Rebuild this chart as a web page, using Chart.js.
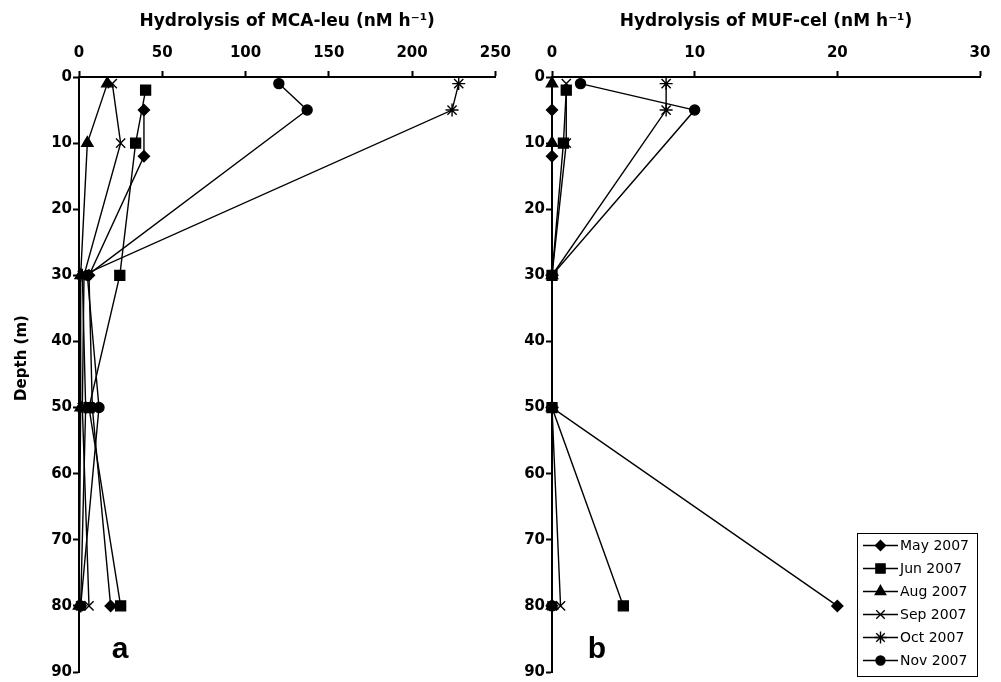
<!DOCTYPE html>
<html>
<head>
<meta charset="utf-8">
<script src="https://cdn.jsdelivr.net/npm/chart.js@4.4.1/dist/chart.umd.min.js"></script>
<style>
  html, body { margin: 0; padding: 0; background: #fff; }
  #wrap { position: relative; width: 1001px; height: 682px; }
  canvas { position: absolute; top: 0; }
  #chartA { left: 0; }
  #chartB { left: 520px; }
</style>
</head>
<body>
<div id="wrap">
  <canvas id="chartA" width="520" height="682"></canvas>
  <canvas id="chartB" width="481" height="682"></canvas>
</div>
<script>
// sampling months and the depths (m) measured in each
const months = ['May 2007', 'Jun 2007', 'Aug 2007', 'Sep 2007', 'Oct 2007', 'Nov 2007'];
const depthByMonth = [
  [5, 12, 30, 50, 80],
  [2, 10, 30, 50, 80],
  [1, 10, 30, 50, 80],
  [1, 10, 30, 50, 80],
  [1, 5, 30, 50, 80],
  [1, 5, 30, 50, 80]
];
// hydrolysis rates (nM h-1), same order as depthByMonth
const mcaLeu = [
  [39, 39, 6, 8, 19],
  [40, 34, 24.5, 6, 25],
  [17, 5, 1, 1, 0],
  [20, 25, 3, 2, 6],
  [228, 224, 2, 4, 1],
  [120, 137, 5, 12, 1]
];
const mufCel = [
  [0, 0, 0, 0, 20],
  [1, 0.8, 0, 0, 5],
  [0, 0, 0, 0, 0],
  [1, 1, 0, 0, 0.6],
  [8, 8, 0, 0, 0],
  [2, 10, 0, 0, 0]
];
const markerStyles = ['rectRot', 'rect', 'triangle', 'crossRot', 'star', 'circle'];
const markerSizes = [5.5, 7, 6.5, 6.5, 6.5, 5];

Chart.defaults.font.family = "'DejaVu Sans', sans-serif";
Chart.defaults.color = '#000';

function buildDatasets(values) {
  return months.map(function (m, i) {
    return {
      label: m,
      data: depthByMonth[i].map(function (d, j) { return { x: values[i][j], y: d }; }),
      showLine: true,
      borderColor: '#000',
      borderWidth: 1.4,
      backgroundColor: '#000',
      pointStyle: markerStyles[i],
      pointRadius: markerSizes[i],
      pointHoverRadius: markerSizes[i],
      pointBorderWidth: 1.4,
      pointBackgroundColor: '#000',
      pointBorderColor: '#000',
      clip: false
    };
  });
}

// panel letter, depth title and boxed legend drawn on top of the chart
const extras = {
  id: 'extras',
  afterDraw: function (chart, args, opts) {
    const ctx = chart.ctx;
    ctx.save();
    ctx.fillStyle = '#000';
    ctx.font = "bold 30px 'Liberation Sans', Arial, sans-serif";
    ctx.textAlign = 'center';
    ctx.textBaseline = 'middle';
    ctx.fillText(opts.letter, opts.letterX, 650);

    if (opts.yTitle) {
      ctx.save();
      ctx.translate(22, 358);
      ctx.rotate(-Math.PI / 2);
      ctx.font = "bold 15px 'DejaVu Sans', sans-serif";
      ctx.fillText(opts.yTitle, 0, 0);
      ctx.restore();
    }

    if (opts.legend) {
      const bx = 337, by = 533, bw = 120, bh = 143;
      ctx.lineWidth = 1;
      ctx.strokeStyle = '#000';
      ctx.strokeRect(bx + 0.5, by + 0.5, bw, bh);
      ctx.font = "14px 'DejaVu Sans', sans-serif";
      ctx.textAlign = 'left';
      chart.data.datasets.forEach(function (ds, i) {
        const cy = by + 12.5 + i * 23;
        ctx.beginPath();
        ctx.lineWidth = 1.4;
        ctx.moveTo(bx + 6, cy);
        ctx.lineTo(bx + 41, cy);
        ctx.stroke();
        Chart.helpers.drawPoint(ctx, { pointStyle: ds.pointStyle, radius: ds.pointRadius - 0.5, borderWidth: 1.4, rotation: 0 }, bx + 23.5, cy);
        ctx.fillText(ds.label, bx + 43, cy + 1);
      });
    }
    ctx.restore();
  }
};

function makeChart(id, values, xMax, xStep, xTitle, yTitle, yWidth, letterX, withLegend) {
  return new Chart(document.getElementById(id), {
    type: 'scatter',
    data: { datasets: buildDatasets(values) },
    options: {
      responsive: false,
      animation: false,
      events: [],
      layout: { padding: { left: 0, top: 0, right: 21, bottom: 8 } },
      plugins: {
        legend: { display: false },
        tooltip: { enabled: false },
        extras: { letter: letterX[0], letterX: letterX[1], legend: withLegend, yTitle: yTitle }
      },
      scales: {
        x: {
          type: 'linear',
          position: 'top',
          min: 0,
          max: xMax,
          ticks: { stepSize: xStep, padding: 9, font: { size: 15, weight: 'bold' }, color: '#000' },
          grid: { drawOnChartArea: false, tickLength: 6, tickColor: '#000', tickWidth: 2 },
          border: { display: true, color: '#000', width: 2 },
          title: { display: true, text: xTitle, padding: { top: 11, bottom: 0 }, font: { size: 17, weight: 'bold' }, color: '#000' },
          afterFit: function (scale) { scale.height = 77; }
        },
        y: {
          type: 'linear',
          reverse: true,
          min: 0,
          max: 90,
          ticks: { stepSize: 10, padding: 1, font: { size: 15, weight: 'bold' }, color: '#000' },
          grid: { drawOnChartArea: false, tickLength: 6, tickColor: '#000', tickWidth: 2 },
          border: { display: true, color: '#000', width: 2 },
          afterFit: function (scale) { scale.width = yWidth; }
        }
      }
    },
    plugins: [extras]
  });
}

makeChart('chartA', mcaLeu, 250, 50, 'Hydrolysis of MCA-leu (nM h\u207B\u00B9)', 'Depth (m)', 79, ['a', 120], false);
makeChart('chartB', mufCel, 30, 10, 'Hydrolysis of MUF-cel (nM h\u207B\u00B9)', '', 32, ['b', 77], true);
</script>
</body>
</html>
